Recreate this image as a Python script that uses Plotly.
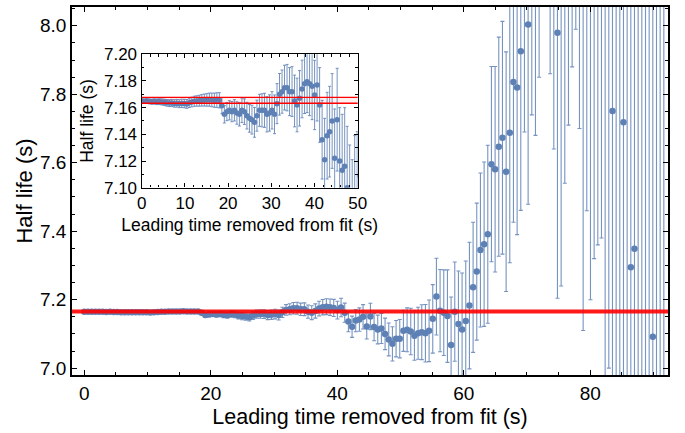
import plotly.graph_objects as go

# ---- data ----
time_step = 0.58  # s between successive fits
half_life = [
    7.1650, 7.1648, 7.1650, 7.1647, 7.1645, 7.1646, 7.1644, 7.1645, 7.1643, 7.1640,
    7.1636, 7.1634, 7.1635, 7.1632, 7.1633, 7.1630, 7.1632, 7.1631, 7.1628, 7.1636,
    7.1642, 7.1648, 7.1650, 7.1652, 7.1655, 7.1657, 7.1658, 7.1660, 7.1658, 7.1656,
    7.1657, 7.1655, 7.1615, 7.1550, 7.1570, 7.1580, 7.1570, 7.1580, 7.1560, 7.1550,
    7.1580, 7.1570, 7.1540, 7.1520, 7.1510, 7.1490, 7.1540, 7.1580, 7.1580, 7.1580,
    7.1550, 7.1560, 7.1580, 7.1550, 7.1630, 7.1700, 7.1720, 7.1750, 7.1750, 7.1720,
    7.1720, 7.1650, 7.1620, 7.1670, 7.1740, 7.1780, 7.1795, 7.1780, 7.1760, 7.1695,
    7.1770, 7.1620, 7.1360, 7.1210, 7.1390, 7.1420, 7.1500, 7.1220, 7.1510, 7.1200,
    7.1130, 7.1160, 7.1000, 7.0840, 7.0710, 7.0860, 7.0860, 7.1090, 7.1120, 7.1070,
    7.0950, 7.1020, 7.1050, 7.1020, 7.1090, 7.1440, 7.2090, 7.1680, 7.1620, 7.1520,
    7.0680, 7.1650, 7.1290, 7.1130, 7.1380, 7.1830, 7.2360, 7.2820, 7.3450, 7.3620,
    7.3910, 7.5960, 7.5810, 7.6470, 7.6730, 7.5740, 7.6880, 7.8360, 7.8200, 7.9260,
    8.1700, 8.0040, 8.2900, 8.2600, 8.4500, 8.9000, 8.9500, 8.5600, 8.3600, 7.9800,
    8.0900, 8.3900, 8.6100, 8.7800, 8.9400, 8.7000, 8.1100, 8.5100, 8.3000, 8.4200,
    8.5100, 8.5800, 8.2000, 8.3000, 7.7510, 8.3000, 6.8000, 7.7180, 8.2000, 7.2950,
    7.3490, 8.3000, 6.8000, 8.4000, 8.2000, 7.0920, 8.5000, 6.7000, 8.3000,
]
half_life_err = [
    0.0015, 0.0016, 0.0017, 0.0018, 0.0019, 0.0020, 0.0021, 0.0022, 0.0023, 0.0024,
    0.0025, 0.0026, 0.0027, 0.0028, 0.0029, 0.0030, 0.0031, 0.0032, 0.0033, 0.0035,
    0.0036, 0.0038, 0.0039, 0.0041, 0.0043, 0.0045, 0.0047, 0.0049, 0.0051, 0.0053,
    0.0055, 0.0057, 0.0060, 0.0065, 0.0068, 0.0072, 0.0076, 0.0080, 0.0084, 0.0088,
    0.0092, 0.0096, 0.0100, 0.0104, 0.0108, 0.0112, 0.0116, 0.0120, 0.0124, 0.0128,
    0.0132, 0.0136, 0.0140, 0.0145, 0.0150, 0.0156, 0.0162, 0.0168, 0.0174, 0.0180,
    0.0187, 0.0194, 0.0201, 0.0208, 0.0216, 0.0224, 0.0232, 0.0240, 0.0250, 0.0260,
    0.0270, 0.0280, 0.0295, 0.0310, 0.0325, 0.0340, 0.0355, 0.0370, 0.0385, 0.0400,
    0.0420, 0.0440, 0.0460, 0.0480, 0.0500, 0.0530, 0.0560, 0.0600, 0.0640, 0.0680,
    0.0720, 0.0760, 0.0800, 0.0840, 0.0900, 0.1000, 0.1120, 0.1200, 0.1250, 0.1350,
    0.1400, 0.1450, 0.1550, 0.1650, 0.1750, 0.1850, 0.1900, 0.2000, 0.2250, 0.2400,
    0.2600, 0.2850, 0.3000, 0.3200, 0.3400, 0.3500, 0.3800, 0.4100, 0.4300, 0.4650,
    0.4800, 0.5250, 0.5500, 0.5800, 0.6000, 0.6300, 0.6500, 0.7000, 0.7200, 0.7760,
    0.8500, 0.8500, 0.9000, 0.9000, 0.9500, 1.0000, 1.0000, 1.0500, 1.1000, 1.1000,
    1.1500, 1.2000, 1.3000, 1.3000, 1.3000, 1.4000, 1.4000, 1.4000, 1.5000, 1.5000,
    1.5000, 1.6000, 1.6000, 1.6000, 1.6000, 1.7000, 1.8000, 1.8000, 1.8000,
]
leading_time = [round(i * time_step, 2) for i in range(len(half_life))]

fit_value = 7.1655
fit_unc = 0.0022

main_x_ticks = [0, 20, 40, 60, 80]
main_y_ticks = [7.0, 7.2, 7.4, 7.6, 7.8, 8.0]
inset_x_ticks = [0, 10, 20, 30, 40, 50]
inset_y_ticks = [7.10, 7.12, 7.14, 7.16, 7.18, 7.20]

# ---- style ----
BLUE = "#5E81B5"
BAR = "rgba(94,129,181,0.85)"
FONT = "Liberation Sans, Arial, sans-serif"

fig = go.Figure()

fig.add_trace(go.Scatter(
    x=leading_time, y=half_life, mode="markers",
    marker=dict(color=BLUE, size=6.5),
    error_y=dict(type="data", array=half_life_err, color=BAR, thickness=1.1, width=2),
    xaxis="x", yaxis="y", showlegend=False,
))
fig.add_trace(go.Scatter(
    x=leading_time, y=half_life, mode="markers",
    marker=dict(color=BLUE, size=5.5),
    error_y=dict(type="data", array=half_life_err, color=BAR, thickness=1, width=1.5),
    xaxis="x2", yaxis="y2", showlegend=False,
))

# fit lines
fig.add_shape(type="line", xref="x domain", yref="y", x0=0, x1=1,
              y0=fit_value, y1=fit_value,
              line=dict(color="rgba(255,0,0,0.9)", width=4), layer="above")
fig.add_shape(type="rect", xref="x2 domain", yref="y2", x0=0, x1=1,
              y0=fit_value - fit_unc, y1=fit_value + fit_unc,
              fillcolor="rgba(255,0,0,0.06)", line=dict(width=0), layer="above")
for yv in (fit_value - fit_unc, fit_value + fit_unc):
    fig.add_shape(type="line", xref="x2 domain", yref="y2", x0=0, x1=1,
                  y0=yv, y1=yv, line=dict(color="#FF0000", width=1.3), layer="above")

axis_common = dict(showline=True, linecolor="black", mirror="allticks", automargin=False,
                   ticks="inside", tickcolor="black", showgrid=False, zeroline=False)

fig.update_layout(
    width=685, height=433,
    margin=dict(l=72, r=17, t=7, b=58),
    paper_bgcolor="white", plot_bgcolor="white",
    font=dict(family=FONT, color="black"),
    xaxis=dict(**axis_common, domain=[0, 1], range=[-1.95, 92.3],
               tickvals=main_x_ticks, linewidth=1.6, ticklen=5, tickwidth=1,
               minor=dict(dtick=5, ticklen=3, tickcolor="black", ticks="inside"),
               tickfont=dict(size=19),
               title=dict(text="Leading time removed from fit (s)", font=dict(size=21.5), standoff=6)),
    yaxis=dict(**axis_common, domain=[0, 1], range=[6.98, 8.055],
               tickvals=main_y_ticks, tickformat=".1f", linewidth=1.6, ticklen=5, tickwidth=1,
               minor=dict(dtick=0.05, ticklen=3, tickcolor="black", ticks="inside"),
               tickfont=dict(size=19),
               title=dict(text="Half life (s)", font=dict(size=22), standoff=1)),
    xaxis2=dict(**axis_common, domain=[0.1169, 0.4794], anchor="y2", range=[0, 50],
                tickvals=inset_x_ticks, linewidth=1.4, ticklen=4, tickwidth=1,
                minor=dict(dtick=2, ticklen=2.5, tickcolor="black", ticks="inside"),
                tickfont=dict(size=17),
                title=dict(text="Leading time removed from fit (s)", font=dict(size=17.5), standoff=6)),
    yaxis2=dict(**axis_common, domain=[0.509, 0.8715], anchor="x2", range=[7.10, 7.20],
                tickvals=inset_y_ticks, tickformat=".2f", linewidth=1.4, ticklen=4, tickwidth=1,
                minor=dict(dtick=0.01, ticklen=2.5, tickcolor="black", ticks="inside"),
                tickfont=dict(size=17),
                title=dict(text="Half life (s)", font=dict(size=17.5), standoff=5)),
)

fig.write_html("out.html", config={"displayModeBar": False},
               post_script="document.body.style.margin='0';")
